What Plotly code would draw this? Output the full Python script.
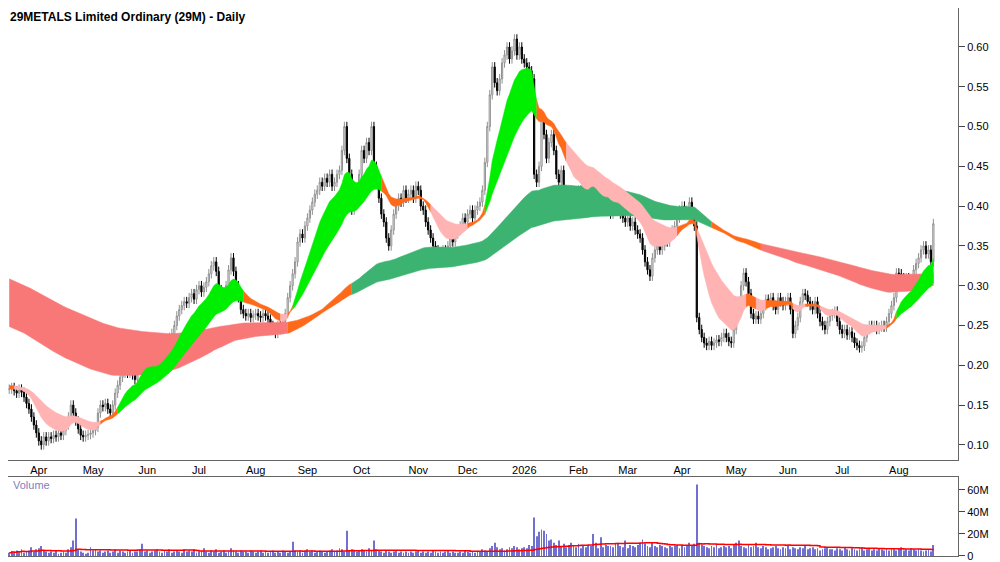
import numpy as np
import pandas as pd
import plotly.graph_objs as go

# month labels (Jan 2026 is shown as the year)
months = ["", "Apr", "May", "Jun", "Jul", "Aug", "Sep", "Oct", "Nov", "Dec",
          "2026", "Feb", "Mar", "Apr", "May", "Jun", "Jul", "Aug"]

# daily closes, one list per month
close_by_month = [
    [.170, .172, .168, .165, .170, .166, .160, .152],
    [.145, .135, .125, .115, .105, .100, .110, .105, .110, .108, .112, .110, .115, .112, .118, .125, .135, .150, .140, .130, .120, .112],
    [.110, .112, .113, .115, .118, .122, .140, .150, .148, .152, .145, .140, .150, .165, .175, .185, .190, .195, .190, .192, .188, .182],
    [.195, .220, .215, .222, .210, .205, .200, .196, .205, .210, .218, .225, .232, .235, .240, .250, .262, .270, .275, .280, .278],
    [.285, .290, .283, .295, .300, .292, .298, .305, .315, .325, .330, .318, .295, .285, .290, .300, .320, .335, .318, .300, .285, .270, .265],
    [.262, .265, .260, .263, .265, .262, .260, .265, .262, .258, .250, .245, .240, .250, .245, .255, .265, .285, .300, .315, .330],
    [.355, .365, .360, .375, .385, .395, .405, .415, .420, .430, .425, .435, .430, .440, .425, .430, .440, .445, .470, .500, .460, .440],
    [.395, .410, .420, .440, .470, .460, .480, .470, .500, .450, .430, .410, .390, .380, .360, .350, .370, .390, .400, .410, .405, .420, .410],
    [.415, .420, .410, .425, .420, .400, .395, .380, .370, .360, .350, .345, .340, .335, .345, .340, .350, .360, .355, .365],
    [.370, .375, .385, .380, .390, .395, .385, .395, .400, .405, .420, .455, .500, .540, .575, .555, .545, .560, .580, .590, .600, .585, .595],
    [.610, .590, .600, .585, .580, .575, .570, .560, .440, .430, .450, .510, .490, .460, .480, .490, .470, .440, .430, .445, .420, .410],
    [.420, .410, .400, .415, .420, .405, .400, .410, .420, .440, .430, .410, .400, .395, .400, .405, .410, .390, .395, .400],
    [.400, .390, .385, .380, .385, .375, .380, .370, .365, .360, .345, .330, .320, .312, .335, .345, .355, .345, .350, .360, .355, .365],
    [.370, .375, .385, .395, .400, .390, .395, .405, .385, .375, .260, .245, .235, .228, .225, .230, .225, .228, .232, .230, .235, .240],
    [.235, .230, .228, .245, .265, .280, .300, .316, .305, .290, .265, .258, .262, .258, .265, .275, .283, .280, .285, .275, .270],
    [.285, .280, .275, .280, .285, .270, .240, .250, .260, .280, .290, .288, .280, .275, .270, .280, .265, .255, .250, .245, .255, .262],
    [.265, .268, .255, .245, .240, .245, .238, .242, .235, .228, .225, .222, .224, .235, .245, .250, .248, .250, .245, .248, .250, .248, .255],
    [.265, .275, .285, .316, .315, .310, .305, .310, .305, .308, .320, .328, .335, .345, .350, .340, .345, .330, .378],
]

# daily volume in millions, one list per month
volume_by_month = [
    [3, 4, 3, 5, 4, 6, 3, 4],
    [5, 8, 4, 6, 7, 9, 5, 4, 3, 4, 3, 5, 2, 3, 4, 3, 6, 8, 14, 34, 6, 4],
    [3, 2, 3, 8, 5, 6, 4, 5, 3, 4, 5, 3, 4, 6, 3, 5, 4, 3, 4, 5, 3, 4],
    [4, 6, 11, 4, 5, 3, 4, 5, 6, 4, 3, 5, 4, 6, 3, 4, 5, 4, 3, 6, 4],
    [5, 4, 6, 3, 4, 5, 7, 4, 3, 5, 4, 6, 3, 4, 5, 3, 4, 7, 5, 4, 3, 5, 4],
    [4, 3, 5, 4, 3, 4, 5, 3, 4, 3, 4, 5, 3, 4, 3, 5, 4, 3, 4, 13, 5],
    [4, 5, 3, 4, 6, 4, 5, 3, 4, 5, 4, 3, 4, 5, 6, 4, 5, 7, 6, 4, 23, 5],
    [6, 5, 4, 5, 6, 5, 4, 7, 5, 14, 6, 5, 4, 3, 5, 4, 3, 4, 5, 3, 4, 3, 4],
    [3, 4, 3, 4, 5, 3, 4, 3, 4, 3, 5, 4, 3, 4, 3, 4, 5, 3, 4, 3],
    [3, 4, 3, 5, 4, 3, 4, 3, 5, 4, 6, 5, 4, 7, 9, 12, 8, 6, 7, 5, 6, 8, 7],
    [9, 8, 6, 7, 8, 7, 10, 9, 35, 18, 22, 24, 23, 20, 14, 15, 12, 10, 14, 9, 11, 8],
    [10, 12, 9, 8, 11, 7, 9, 8, 10, 9, 20, 12, 7, 17, 8, 10, 9, 9, 8, 11],
    [12, 9, 8, 14, 7, 10, 9, 8, 10, 12, 15, 11, 9, 8, 12, 9, 8, 10, 9, 8, 7, 9],
    [8, 9, 10, 7, 9, 8, 10, 12, 9, 11, 65, 12, 10, 9, 8, 7, 9, 8, 10, 7, 8, 9],
    [8, 9, 7, 10, 12, 14, 9, 8, 7, 10, 8, 9, 12, 8, 7, 9, 8, 6, 7, 8, 9],
    [7, 6, 8, 7, 9, 6, 8, 7, 6, 8, 7, 9, 6, 7, 8, 6, 7, 5, 6, 7, 8, 6],
    [6, 5, 7, 6, 5, 8, 6, 5, 7, 6, 5, 6, 8, 5, 6, 7, 5, 6, 5, 7, 6, 5, 6],
    [5, 7, 6, 5, 6, 8, 5, 6, 5, 7, 6, 5, 6, 5, 4, 5, 6, 4, 10],
]

# ribbon periods and the EMA levels at the left edge of the chart
short_periods = [12, 15, 18, 22, 26, 32]
short_seed = [.170, .170, .171, .172, .173, .175]
long_periods = [115, 130, 145, 160, 180, 205]
long_seed = [.250, .262, .274, .286, .298, .310]

close, volume, tick_pos = [], [], []
for c, v in zip(close_by_month, volume_by_month):
    tick_pos.append(len(close))
    v = (v + [v[-1]] * len(c))[:len(c)]
    close += c
    volume += v
close = np.array(close)
volume = np.array(volume, dtype=float)
n = len(close)
x = np.arange(n)
opn = np.r_[close[0], close[:-1]]
high = np.maximum(opn, close) + 0.006
low = np.minimum(opn, close) - 0.006


def emas(periods, seeds):
    out = []
    for p, s in zip(periods, seeds):
        a = 2 / (p + 1)
        e, cur = [], s
        for c in close:
            cur = cur + a * (c - cur)
            e.append(cur)
        out.append(np.array(e))
    return np.array(out)


def ribbon(fig, mat, up_col, mid_col, down_col):
    top, bot = mat.max(axis=0), mat.min(axis=0)
    d = np.diff(mat, axis=0)
    cols = np.where((d < 0).all(axis=0), up_col,
                    np.where((d > 0).all(axis=0), down_col, mid_col))
    start = 0
    for i in range(1, n + 1):
        if i == n or cols[i] != cols[start]:
            end = min(i, n - 1)
            xs = list(x[start:end + 1]) + list(x[start:end + 1][::-1])
            ys = list(top[start:end + 1]) + list(bot[start:end + 1][::-1])
            fig.add_trace(go.Scatter(x=xs, y=ys, fill='toself', fillcolor=cols[start],
                                     line=dict(width=0.5, color=cols[start]),
                                     mode='lines', hoverinfo='skip', showlegend=False))
            start = i


fig = go.Figure()
ribbon(fig, emas(long_periods, long_seed), '#3cb371', '#ff6a1a', '#f87878')
ribbon(fig, emas(short_periods, short_seed), '#00ee00', '#ff6a1a', '#ffb3b3')

fig.add_trace(go.Candlestick(
    x=x, open=opn, high=high, low=low, close=close,
    increasing=dict(fillcolor='white', line=dict(color='#909090', width=1)),
    decreasing=dict(fillcolor='black', line=dict(color='black', width=1)),
    whiskerwidth=0, showlegend=False, yaxis='y'))

vol_ma = pd.Series(volume).rolling(50, min_periods=1).mean()
fig.add_trace(go.Bar(x=x, y=volume, marker=dict(color='#7070d0', line=dict(width=0)),
                     width=0.35, yaxis='y2', showlegend=False))
fig.add_trace(go.Scatter(x=x, y=vol_ma, mode='lines', line=dict(color='red', width=1.5, shape='hv'),
                         yaxis='y2', showlegend=False))

font = "Liberation Sans, Arial"
fig.update_layout(
    width=1000, height=562, margin=dict(l=0, r=50, t=0, b=4, autoexpand=False),
    plot_bgcolor='white', paper_bgcolor='white',
    font=dict(family=font, size=11, color='black'),
    xaxis=dict(range=[-0.5, 385], tickvals=[p + 4 for p in tick_pos[1:]], ticktext=months[1:],
               showgrid=False, zeroline=False, rangeslider=dict(visible=False), automargin=False,
               anchor='y', showline=True, linecolor='#666', ticks='',
               tickfont=dict(size=11, family=font)),
    xaxis2=dict(range=[-0.5, 385], showticklabels=False, showgrid=False, zeroline=False,
                anchor='y2', matches='x', showline=True, linecolor='#666', mirror=True,
                automargin=False),
    yaxis=dict(domain=[0.19, 1.0], range=[0.081, 0.649], side='right', showgrid=False,
               tickvals=[0.10, 0.15, 0.20, 0.25, 0.30, 0.35, 0.40, 0.45, 0.50, 0.55, 0.60],
               tickformat='.2f', ticks='outside', ticklen=6, showline=True, linecolor='#666',
               zeroline=False, tickfont=dict(size=11), automargin=False),
    yaxis2=dict(domain=[0.018, 0.16], range=[0, 72], side='right', showgrid=False,
                tickvals=[0, 20, 40, 60], ticktext=['0', '20M', '40M', '60M'],
                ticks='outside', ticklen=6, showline=True, linecolor='#666', zeroline=False,
                anchor='x2', tickfont=dict(size=11), automargin=False),
    bargap=0.5,
)
fig.data[-2].update(xaxis='x2')
fig.data[-1].update(xaxis='x2')

fig.add_annotation(text="<b>29METALS Limited Ordinary (29M) - Daily</b>", xref='paper', yref='paper',
                   x=0.0, y=1.0, xanchor='left', yanchor='top', showarrow=False,
                   font=dict(size=12, family=font))
fig.add_annotation(text="Volume", xref='paper', yref='paper', x=0.003, y=0.16,
                   xanchor='left', yanchor='top', showarrow=False,
                   font=dict(size=11, family=font, color='#8080c0'))

fig.write_html("out.html")
